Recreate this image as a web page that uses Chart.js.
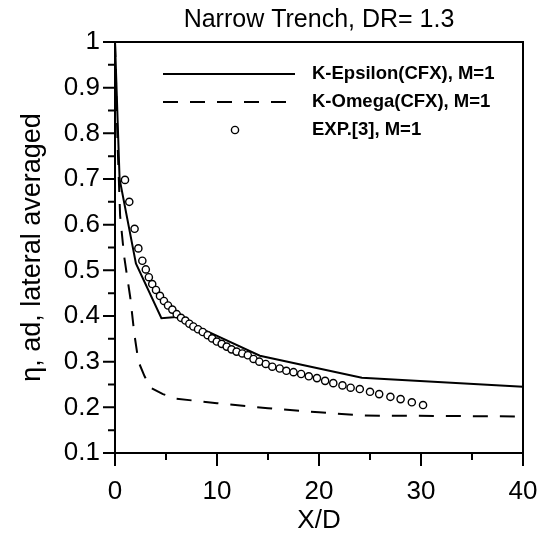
<!DOCTYPE html>
<html lang="en">
<head>
    <meta charset="UTF-8">
    <title>Narrow Trench, DR= 1.3</title>
    <script src="https://cdn.jsdelivr.net/npm/chart.js"></script>
    <style>
        body { margin: 0; background: #fff; }
    </style>
</head>
<body>
    <canvas id="trenchChart" width="539" height="537"></canvas>

    <script>
        // Values
        const kEpsX = [0, 0.45, 2.05, 4.55, 6.0, 14.2, 24.2, 40];
        const kEpsY = [1.0, 0.70, 0.515, 0.395, 0.398, 0.313, 0.265, 0.245];

        const kOmgX = [0, 0.25, 0.5, 0.9, 1.5, 1.9, 2.3, 2.9, 3.5, 4.7, 6, 10, 15, 20, 24.5, 40];
        const kOmgY = [1.0, 0.78, 0.62, 0.53, 0.44, 0.36, 0.30, 0.268, 0.243, 0.229, 0.219, 0.209, 0.198, 0.189, 0.182, 0.180];

        const expX = [0.98, 1.40, 1.92, 2.29, 2.68, 3.02, 3.32, 3.65, 4.02, 4.41, 4.80, 5.20, 5.62, 6.05, 6.47,
            6.90, 7.29, 7.68, 8.14, 8.60, 9.08, 9.52, 9.98, 10.46, 10.95, 11.42, 11.92, 12.48, 13.02, 13.58,
            14.15, 14.78, 15.42, 16.15, 16.80, 17.50, 18.25, 19.00, 19.80, 20.60, 21.40, 22.30, 23.10, 24.00,
            25.00, 25.90, 27.00, 28.00, 29.10, 30.20];
        const expY = [0.698, 0.650, 0.591, 0.548, 0.521, 0.502, 0.485, 0.470, 0.457, 0.444, 0.433, 0.423, 0.414, 0.404, 0.396,
            0.390, 0.383, 0.377, 0.371, 0.365, 0.358, 0.351, 0.344, 0.339, 0.333, 0.327, 0.322, 0.318, 0.314, 0.306,
            0.300, 0.295, 0.289, 0.285, 0.280, 0.277, 0.273, 0.268, 0.264, 0.258, 0.253, 0.248, 0.243, 0.240,
            0.234, 0.229, 0.223, 0.218, 0.211, 0.205];

        const seriesLabels = ["K-Epsilon(CFX), M=1", "K-Omega(CFX), M=1", "EXP.[3], M=1"];

        const FONT = "'Liberation Sans', Arial, sans-serif";
        const toPoints = (xs, ys) => xs.map((x, i) => ({ x: x, y: ys[i] }));

        // frame, minor/major tick marks and the in-plot legend
        const decorations = {
            id: "decorations",
            afterDraw(chart) {
                const ctx = chart.ctx;
                const area = chart.chartArea;
                const xs = chart.scales.x;
                const ys = chart.scales.y;

                ctx.save();
                ctx.strokeStyle = "#000";
                ctx.lineWidth = 2;
                ctx.beginPath();
                ctx.moveTo(area.left, area.top);
                ctx.lineTo(area.right, area.top);
                ctx.lineTo(area.right, area.bottom);
                ctx.stroke();

                ctx.beginPath();
                for (let v = 0; v <= 40.001; v += 5) {
                    const px = xs.getPixelForValue(v);
                    const len = (Math.round(v) % 10 === 0) ? 13 : 7;
                    ctx.moveTo(px, area.bottom);
                    ctx.lineTo(px, area.bottom + len);
                }
                for (let k = 2; k <= 20; k++) {
                    const py = ys.getPixelForValue(k * 0.05);
                    const len = (k % 2 === 0) ? 12 : 7;
                    ctx.moveTo(area.left, py);
                    ctx.lineTo(area.left - len, py);
                }
                ctx.stroke();

                // legend
                const lx0 = area.left + 48, lx1 = area.left + 180, tx = area.left + 197;
                const rows = [area.top + 32, area.top + 60, area.top + 88];
                chart.data.datasets.forEach((ds, i) => {
                    const y = rows[i];
                    ctx.strokeStyle = "#000";
                    ctx.lineWidth = ds.borderWidth;
                    if (ds.showLine) {
                        ctx.setLineDash(ds.borderDash || []);
                        ctx.beginPath();
                        ctx.moveTo(lx0, y);
                        ctx.lineTo(lx1, y);
                        ctx.stroke();
                        ctx.setLineDash([]);
                    } else {
                        ctx.fillStyle = "#fff";
                        ctx.beginPath();
                        ctx.arc(lx0 + 72, y, ds.pointRadius, 0, Math.PI * 2);
                        ctx.fill();
                        ctx.stroke();
                    }
                    ctx.fillStyle = "#000";
                    ctx.font = "bold 18.5px " + FONT;
                    ctx.textBaseline = "middle";
                    ctx.fillText(ds.label, tx, y);
                });
                ctx.restore();
            }
        };

        new Chart(document.getElementById("trenchChart"), {
            type: "scatter",
            data: {
                datasets: [
                    {
                        label: seriesLabels[0],
                        data: toPoints(kEpsX, kEpsY),
                        showLine: true,
                        borderColor: "#000",
                        borderWidth: 2,
                        pointRadius: 0,
                        order: 2
                    },
                    {
                        label: seriesLabels[1],
                        data: toPoints(kOmgX, kOmgY),
                        showLine: true,
                        borderColor: "#000",
                        borderWidth: 2,
                        borderDash: [15, 12],
                        pointRadius: 0,
                        order: 1
                    },
                    {
                        label: seriesLabels[2],
                        data: toPoints(expX, expY),
                        showLine: false,
                        borderColor: "#000",
                        backgroundColor: "#fff",
                        borderWidth: 1.4,
                        pointRadius: 3.6,
                        order: 0
                    }
                ]
            },
            options: {
                responsive: false,
                animation: false,
                devicePixelRatio: 1,
                layout: { padding: 0 },
                plugins: {
                    legend: { display: false },
                    tooltip: { enabled: false },
                    title: {
                        display: true,
                        text: "Narrow Trench, DR= 1.3",
                        fullSize: false,
                        color: "#000",
                        font: { family: FONT, size: 25, weight: "normal", lineHeight: 1.2 },
                        padding: { top: 5, bottom: 7 }
                    }
                },
                scales: {
                    x: {
                        type: "linear",
                        min: 0,
                        max: 40,
                        afterFit: (s) => { s.height = 84; s.paddingLeft = 0; s.paddingRight = 16; },
                        grid: { display: true, drawOnChartArea: false, drawTicks: false },
                        border: { display: true, color: "#000", width: 2 },
                        ticks: {
                            stepSize: 10,
                            padding: 23,
                            color: "#000",
                            font: { family: FONT, size: 26 }
                        },
                        title: {
                            display: true,
                            text: "X/D",
                            color: "#000",
                            font: { family: FONT, size: 26, lineHeight: 1.2 },
                            padding: { top: 0, bottom: 1 }
                        }
                    },
                    y: {
                        type: "linear",
                        min: 0.1,
                        max: 1,
                        afterFit: (s) => { s.width = 115; },
                        grid: { display: true, drawOnChartArea: false, drawTicks: false },
                        border: { display: true, color: "#000", width: 2 },
                        ticks: {
                            stepSize: 0.1,
                            padding: 15,
                            color: "#000",
                            font: { family: FONT, size: 26 },
                            callback: (v) => String(Number(v.toFixed(2)))
                        },
                        title: {
                            display: true,
                            text: "η, ad, lateral averaged",
                            color: "#000",
                            font: { family: FONT, size: 27, lineHeight: 1.2 },
                            padding: { top: 16, bottom: 0 }
                        }
                    }
                }
            },
            plugins: [decorations]
        });
    </script>
</body>
</html>
